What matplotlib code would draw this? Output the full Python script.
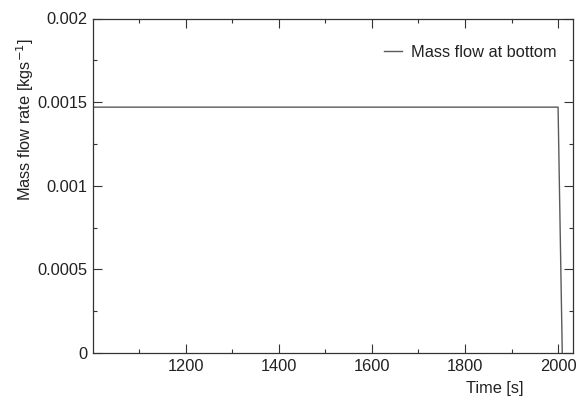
import numpy as np
import matplotlib
matplotlib.use('Agg')
import matplotlib.pyplot as plt
from matplotlib.ticker import MultipleLocator, FixedFormatter, FixedLocator

# data
time_s = [1001, 2000, 2009]
mass_flow = [0.00147, 0.00147, 0.0]

ytick_vals = [0, 0.0005, 0.001, 0.0015, 0.002]
ytick_labels = ['0', '0.0005', '0.001', '0.0015', '0.002']
xtick_vals = [1200, 1400, 1600, 1800, 2000]

plt.rcParams.update({'font.size': 11.8, 'font.family': 'Liberation Sans'})

fig = plt.figure(figsize=(5.8, 3.96), dpi=100)
ax = fig.add_axes([93/580, 1 - 353/396, (572.5 - 93)/580, (353 - 18.5)/396])

ax.plot(time_s, mass_flow, color='#5a5a5a', lw=1.0, label='Mass flow at bottom')

ax.set_xlim(1001, 2031)
ax.set_ylim(0, 0.002)
ax.set_xticks(xtick_vals)
ax.xaxis.set_minor_locator(MultipleLocator(100))
ax.yaxis.set_major_locator(FixedLocator(ytick_vals))
ax.yaxis.set_major_formatter(FixedFormatter(ytick_labels))
ax.yaxis.set_minor_locator(MultipleLocator(0.00025))

ax.tick_params(which='both', direction='in', top=True, right=True, colors='#333333', width=0.8)
ax.tick_params(which='major', length=6.5, pad=4, labelcolor='#222222')
ax.tick_params(which='minor', length=3.2)
for s in ax.spines.values():
    s.set_color('#333333')
    s.set_linewidth(0.9)

# y label sits high on the axis in the original
ax.set_ylabel('Mass flow rate [kgs$^{-1}$]', color='#222222', loc='top')
ax.yaxis.set_label_coords((25 - 93) / 479.5, (353 - 38) / 334.5)
ax.yaxis.label.set_horizontalalignment('right')
ax.yaxis.label.set_verticalalignment('center')

ax.set_xlabel('Time [s]', color='#222222', loc='right')
ax.xaxis.set_label_coords((523 - 93) / 479.5, -0.085)
ax.xaxis.label.set_horizontalalignment('right')

ax.legend(loc='upper right', frameon=False, handlelength=1.1, handletextpad=0.5,
          bbox_to_anchor=(0.997, 0.965), labelcolor='#222222')

fig.savefig('out.png', dpi=100)
